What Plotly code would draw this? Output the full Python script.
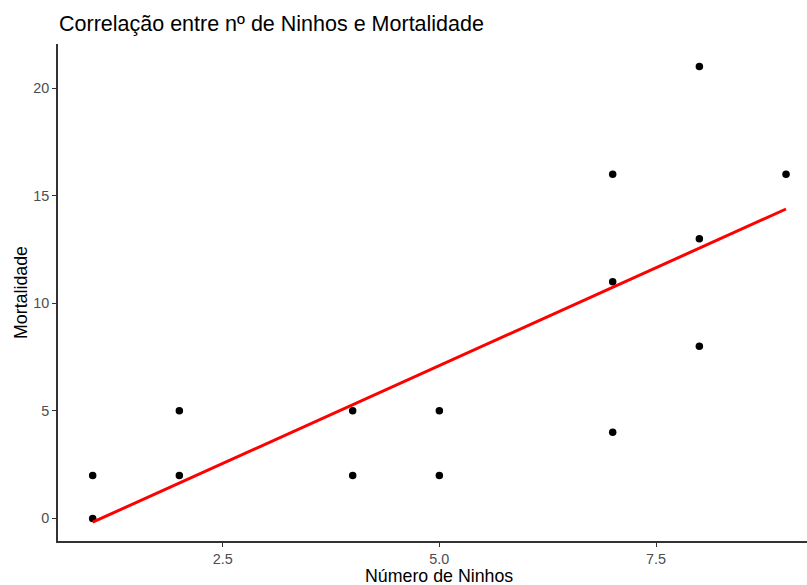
import numpy as np
import plotly.graph_objects as go

# Number of nests vs. mortality observations
ninhos = [1, 1, 2, 2, 4, 4, 5, 5, 7, 7, 7, 8, 8, 8, 9]
mortalidade = [0, 2, 2, 5, 2, 5, 2, 5, 4, 11, 16, 8, 13, 21, 16]

x_ticks = [2.5, 5.0, 7.5]
x_tick_labels = ["2.5", "5.0", "7.5"]
y_ticks = [0, 5, 10, 15, 20]
y_tick_labels = ["0", "5", "10", "15", "20"]

# Least-squares fit line over the observed range
slope, intercept = np.polyfit(ninhos, mortalidade, 1)
fit_x = np.array([min(ninhos), max(ninhos)])
fit_y = slope * fit_x + intercept

FONT = "Liberation Sans, Arial, sans-serif"

fig = go.Figure()
fig.add_trace(go.Scatter(
    x=ninhos, y=mortalidade, mode="markers",
    marker=dict(color="black", size=7.5),
    showlegend=False, hoverinfo="x+y",
))
fig.add_trace(go.Scatter(
    x=fit_x, y=fit_y, mode="lines",
    line=dict(color="#FF0000", width=3),
    showlegend=False, hoverinfo="skip",
))

axis_common = dict(
    showgrid=False, zeroline=False,
    showline=True, linecolor="#333333", linewidth=1.6,
    ticks="outside", ticklen=4, tickwidth=1.3, tickcolor="#333333",
    tickfont=dict(family=FONT, size=14.4, color="#4D4D4D"),
)

fig.update_layout(
    width=807, height=585,
    paper_bgcolor="white", plot_bgcolor="white",
    margin=dict(l=58, r=0, t=44, b=44),
    title=dict(
        text="Correlação entre nº de Ninhos e Mortalidade",
        font=dict(family=FONT, size=21.5, color="black"),
        x=59 / 807, xanchor="left", y=1 - 23 / 585, yanchor="middle",
    ),
    xaxis=dict(
        range=[0.6, 9.242], tickvals=x_ticks, ticktext=x_tick_labels,
        **axis_common,
    ),
    yaxis=dict(
        range=[-1.05, 22.05], tickvals=y_ticks, ticktext=y_tick_labels,
        title=dict(text="Mortalidade", font=dict(family=FONT, size=17.8, color="black"), standoff=1),
        **axis_common,
    ),
    annotations=[dict(
        text="Número de Ninhos", x=5.0, xref="x", y=0, yref="paper",
        yshift=-35, yanchor="middle", showarrow=False,
        font=dict(family=FONT, size=17.8, color="black"),
    )],
)

fig.write_html("out.html")
